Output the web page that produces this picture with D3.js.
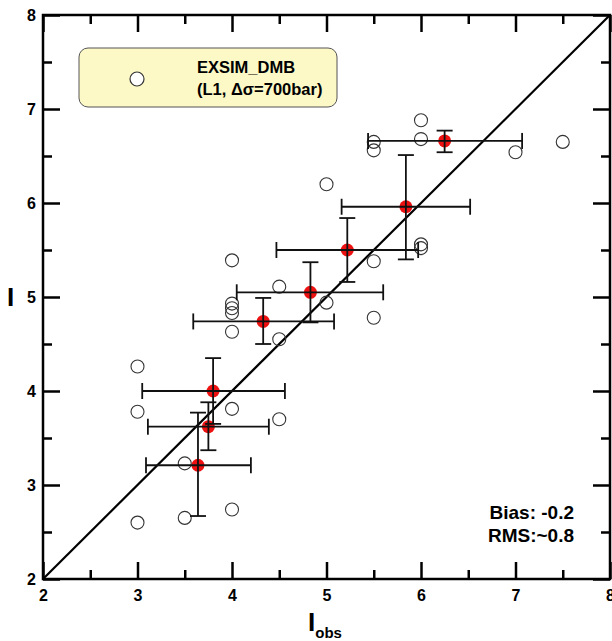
<!DOCTYPE html>
<html>
<head>
<meta charset="UTF-8">
<title>EXSIM_DMB intensity</title>
<script src="https://d3js.org/d3.v7.min.js"></script>
<style>
  body { margin: 0; background: #fff; }
  text { font-family: "Liberation Sans", Arial, sans-serif; font-weight: bold; fill: #000; }
  .frame { fill: none; stroke: #000; stroke-width: 2.5px; }
  .axis path { display: none; }
  .axis line { stroke: #000; stroke-width: 2.5px; }
  .axis text { font-size: 16px; font-family: "Liberation Sans", Arial, sans-serif; font-weight: bold; }
</style>
</head>
<body>
<div id="chart"></div>
<script>
// open circles: individual observations
const obsX = [3.0, 3.0, 3.0, 3.5, 3.5, 4.0, 4.0, 4.5, 4.5, 4.0, 4.0, 4.0, 4.0, 4.0, 4.5, 5.0, 5.0, 5.5, 5.5, 5.5, 5.5, 6.0, 6.0, 6.0, 6.0, 7.0, 7.5];
const obsY = [2.60, 3.78, 4.26, 3.23, 2.65, 2.74, 3.81, 3.70, 4.55, 4.63, 4.83, 4.88, 4.93, 5.39, 5.11, 4.94, 6.20, 4.78, 5.38, 6.56, 6.65, 5.52, 5.56, 6.68, 6.88, 6.54, 6.65];

// binned means with error ranges
const meanX = [3.64, 3.75, 3.80, 4.33, 4.83, 5.22, 5.84, 6.25];
const meanY = [3.21, 3.62, 4.00, 4.74, 5.05, 5.50, 5.96, 6.66];
const xLo   = [3.09, 3.11, 3.05, 3.59, 4.05, 4.47, 5.16, 5.44];
const xHi   = [4.20, 4.39, 4.56, 5.08, 5.60, 5.97, 6.52, 7.07];
const yLo   = [2.67, 3.37, 3.65, 4.50, 4.73, 5.16, 5.40, 6.54];
const yHi   = [3.77, 3.88, 4.35, 4.99, 5.37, 5.84, 6.51, 6.77];

const majorTicks = [2, 3, 4, 5, 6, 7, 8];
const minorTicks = [2.5, 3.5, 4.5, 5.5, 6.5, 7.5];

const width = 612, height = 641;
const x = d3.scaleLinear().domain([2, 8]).range([43, 610]);
const y = d3.scaleLinear().domain([2, 8]).range([579, 15]);

const svg = d3.select("#chart").append("svg")
  .attr("width", width).attr("height", height);

// legend box
svg.append("rect")
  .attr("x", 79).attr("y", 48).attr("width", 258).attr("height", 59)
  .attr("rx", 9).attr("fill", "#fcf9c6").attr("stroke", "#555").attr("stroke-width", 1);
svg.append("circle").attr("cx", 137).attr("cy", 79).attr("r", 7)
  .attr("fill", "#fff").attr("stroke", "#333").attr("stroke-width", 1.2);
svg.append("text").attr("x", 197).attr("y", 73).style("font-size", "16.5px").text("EXSIM_DMB");
svg.append("text").attr("x", 197).attr("y", 95).style("font-size", "16.5px").text("(L1, Δσ=700bar)");

// 1:1 line
svg.append("line")
  .attr("x1", x(2)).attr("y1", y(2)).attr("x2", x(8)).attr("y2", y(8))
  .attr("stroke", "#000").attr("stroke-width", 2.2);

// observations
svg.append("g").selectAll("circle")
  .data(d3.range(obsX.length))
  .join("circle")
  .attr("cx", i => x(obsX[i]))
  .attr("cy", i => y(obsY[i]))
  .attr("r", 6.5)
  .attr("fill", "none")
  .attr("stroke", "#333")
  .attr("stroke-width", 1.1);

// mean dots
svg.append("g").selectAll("circle")
  .data(d3.range(meanX.length))
  .join("circle")
  .attr("cx", i => x(meanX[i]))
  .attr("cy", i => y(meanY[i]))
  .attr("r", 6.5)
  .attr("fill", "#ee1111");

// error bars
const cap = 8;
const eb = svg.append("g").attr("stroke", "#111").attr("stroke-width", 1.8);
d3.range(meanX.length).forEach(i => {
  const cx = x(meanX[i]), cy = y(meanY[i]);
  eb.append("line").attr("x1", x(xLo[i])).attr("x2", x(xHi[i])).attr("y1", cy).attr("y2", cy);
  eb.append("line").attr("x1", x(xLo[i])).attr("x2", x(xLo[i])).attr("y1", cy - cap).attr("y2", cy + cap);
  eb.append("line").attr("x1", x(xHi[i])).attr("x2", x(xHi[i])).attr("y1", cy - cap).attr("y2", cy + cap);
  eb.append("line").attr("x1", cx).attr("x2", cx).attr("y1", y(yLo[i])).attr("y2", y(yHi[i]));
  eb.append("line").attr("x1", cx - cap).attr("x2", cx + cap).attr("y1", y(yLo[i])).attr("y2", y(yLo[i]));
  eb.append("line").attr("x1", cx - cap).attr("x2", cx + cap).attr("y1", y(yHi[i])).attr("y2", y(yHi[i]));
});

// axes: inward ticks on all four sides
const fmt = d3.format("d");
svg.append("g").attr("class", "axis").attr("transform", `translate(0,${y(2)})`)
  .call(d3.axisBottom(x).tickValues(majorTicks).tickFormat(fmt).tickSizeInner(-17).tickSizeOuter(0).tickPadding(9))
  .selectAll("text").attr("y", 11).attr("dy", "0.71em");
svg.append("g").attr("class", "axis").attr("transform", `translate(0,${y(2)})`)
  .call(d3.axisBottom(x).tickValues(minorTicks).tickFormat("").tickSizeInner(-9).tickSizeOuter(0));
svg.append("g").attr("class", "axis").attr("transform", `translate(${x(2)},0)`)
  .call(d3.axisLeft(y).tickValues(majorTicks).tickFormat(fmt).tickSizeInner(-17).tickSizeOuter(0))
  .selectAll("text").attr("x", -7);
svg.append("g").attr("class", "axis").attr("transform", `translate(${x(2)},0)`)
  .call(d3.axisLeft(y).tickValues(minorTicks).tickFormat("").tickSizeInner(-9).tickSizeOuter(0));
svg.append("g").attr("class", "axis").attr("transform", `translate(0,${y(8)})`)
  .call(d3.axisTop(x).tickValues(majorTicks).tickFormat("").tickSizeInner(-17).tickSizeOuter(0));
svg.append("g").attr("class", "axis").attr("transform", `translate(0,${y(8)})`)
  .call(d3.axisTop(x).tickValues(minorTicks).tickFormat("").tickSizeInner(-9).tickSizeOuter(0));
svg.append("g").attr("class", "axis").attr("transform", `translate(${x(8)},0)`)
  .call(d3.axisRight(y).tickValues(majorTicks).tickFormat("").tickSizeInner(-17).tickSizeOuter(0));
svg.append("g").attr("class", "axis").attr("transform", `translate(${x(8)},0)`)
  .call(d3.axisRight(y).tickValues(minorTicks).tickFormat("").tickSizeInner(-9).tickSizeOuter(0));

svg.append("rect").attr("class", "frame")
  .attr("x", x(2)).attr("y", y(8)).attr("width", x(8) - x(2)).attr("height", y(2) - y(8));

// axis titles
const xt = svg.append("text").attr("x", 308).attr("y", 631).style("font-size", "26px");
xt.append("tspan").text("I");
xt.append("tspan").attr("dy", 7).style("font-size", "15px").text("obs");
svg.append("text").attr("x", 10.5).attr("y", 306).attr("text-anchor", "middle").style("font-size", "26px").text("I");

// stats
svg.append("text").attr("x", 574).attr("y", 519).attr("text-anchor", "end").style("font-size", "19px").text("Bias: -0.2");
svg.append("text").attr("x", 574).attr("y", 542).attr("text-anchor", "end").style("font-size", "19px").text("RMS:~0.8");
</script>
</body>
</html>
